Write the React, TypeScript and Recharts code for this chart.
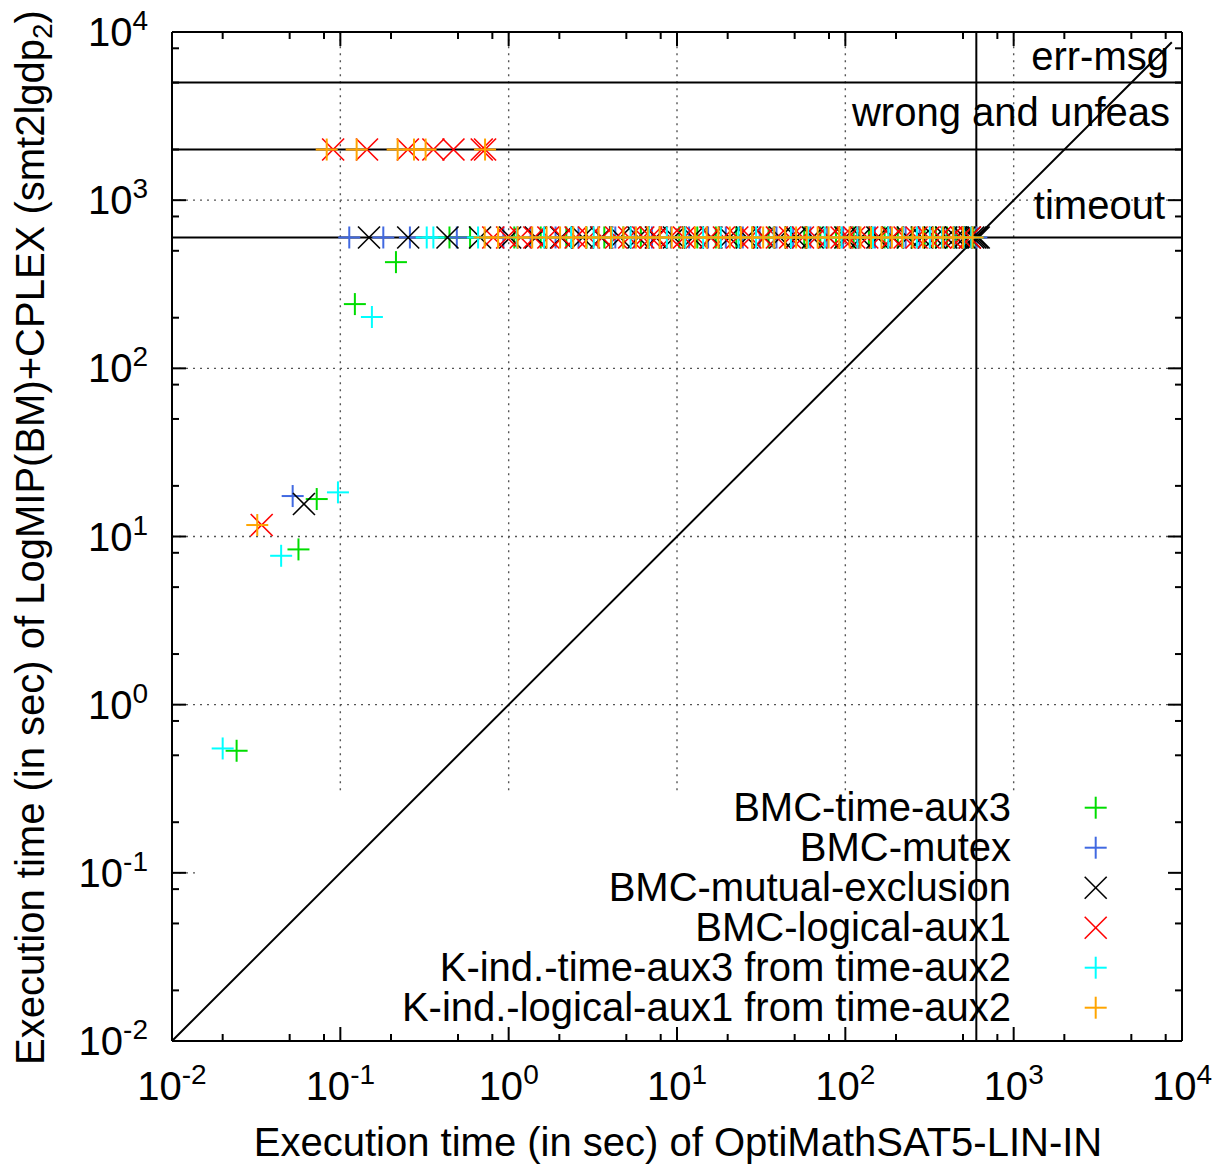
import React from 'react';
import { ScatterChart, Scatter, XAxis, YAxis, ReferenceLine, Legend } from 'recharts';

// ---------------- data ----------------
const seriesNames = [
  'BMC-time-aux3',
  'BMC-mutex',
  'BMC-mutual-exclusion',
  'BMC-logical-aux1',
  'K-ind.-time-aux3 from time-aux2',
  'K-ind.-logical-aux1 from time-aux2',
];
const seriesColors = ['#00dd00', '#4169e1', '#000000', '#ff0000', '#00ffff', '#ffa500'];
const seriesMarkers = ['plus', 'plus', 'cross', 'cross', 'plus', 'plus'];

// solved instances: [OptiMathSAT time, LogMIP time]
const timeAux3Solved = [[0.214, 428], [0.122, 241], [0.0724, 16.7], [0.0564, 8.38], [0.0242, 0.532]];
const mutexSolved = [[0.0521, 17.4]];
const mutualExclusionSolved = [[0.0608, 15.6]];
const logicalAux1Solved = [[0.0341, 11.7]];
const kindTimeAux3Solved = [[0.154, 202], [0.0968, 18.3], [0.0445, 7.68], [0.02, 0.549]];
const kindLogicalAux1Solved = [[0.0321, 11.7]];

// LogMIP timeouts (y = TIMEOUT): OptiMathSAT time
const timeAux3Timeout = [0.445, 0.59, 1.08, 1.55, 2.2, 2.9, 3.7, 4.8, 6.1, 7.9, 10.3, 13.2, 17, 22.5, 28, 35, 44, 57, 71, 88, 112, 138, 171, 205, 248, 296, 345, 402, 455, 520, 578];
const mutexTimeout = [0.113, 0.18, 0.259, 0.492, 0.93, 1.35, 1.9, 2.6, 3.4, 4.3, 5.6, 7.1, 9.2, 11.8, 15.3, 19.5, 24.6, 31, 39, 49, 62, 78, 97, 121, 150, 186, 228, 276, 330, 388, 447, 505, 565, 600];
const mutualExclusionTimeout = [0.148, 0.253, 0.433, 0.676, 1.02, 1.45, 2.05, 2.75, 3.55, 4.6, 5.9, 7.5, 9.6, 12.4, 16, 20.5, 26, 33, 41, 51, 64, 80, 100, 124, 155, 192, 235, 285, 340, 398, 455, 510, 548, 575, 592, 608, 620];
const logicalAux1Timeout = [0.81, 0.98, 1.18, 1.42, 1.72, 2.08, 2.5, 3.0, 3.6, 4.35, 5.2, 6.3, 7.0, 7.6, 9.1, 11, 13.1, 15.8, 19, 22.8, 27.3, 32.7, 39.2, 47, 56, 67, 80, 95, 104, 113, 135, 160, 190, 225, 265, 312, 365, 425, 488, 550];
const kindTimeAux3Timeout = [0.326, 0.357, 0.658, 1.12, 1.62, 2.35, 3.2, 4.1, 5.3, 6.8, 8.7, 11.2, 14.3, 18.2, 23.2, 29.5, 37.5, 47.5, 60, 75.5, 95, 118, 146, 180, 220, 266, 318, 376, 440, 505, 560];
const kindLogicalAux1Timeout = [0.72, 0.865, 1.13, 1.38, 1.68, 2.02, 2.42, 2.88, 3.42, 4.05, 4.8, 5.7, 6.7, 7.9, 9.3, 10.9, 12.8, 15, 17.6, 20.6, 24, 28, 32.5, 37.8, 43.9, 51, 59, 68.5, 79.5, 92, 106, 123, 142, 164, 189, 218, 251, 289, 332, 381, 437, 500, 570];

// wrong-and-unfeasible results (y = WRONG)
const timeAux3Wrong: number[] = [];
const mutexWrong: number[] = [];
const mutualExclusionWrong: number[] = [];
const logicalAux1Wrong = [0.0906, 0.144, 0.252, 0.357, 0.47, 0.692, 0.724];
const kindTimeAux3Wrong: number[] = [];
const kindLogicalAux1Wrong = [0.083, 0.125, 0.219, 0.274, 0.321, 0.724];

const TIMEOUT = 600;
const WRONG = 2000;
const ERRMSG = 5000;
const DIAG_END = 8700;
const LEGEND_BOX_BOTTOM_Y = 0.31;
const LEGEND_BOX_LEFT_X = 0.0139;

const axisDomain: [number, number] = [0.01, 10000];
const axisTicks = [0.01, 0.02, 0.05, 0.08, 0.1, 0.2, 0.5, 0.8, 1, 2, 5, 8, 10, 20, 50, 80, 100, 200, 500, 800, 1000, 2000, 5000, 8000, 10000];
const majorTicks = [0.01, 0.1, 1, 10, 100, 1000, 10000];
const majorTickExponents = ['-2', '-1', '0', '1', '2', '3', '4'];
const gridX = [0.1, 1, 10, 100, 1000];
const gridYFull = [1, 10, 100, 1000];
const gridYShort = [0.1];

const xTitle = 'Execution time (in sec) of OptiMathSAT5-LIN-IN';
const yTitleMain = 'Execution time (in sec) of LogMIP(BM)+CPLEX (smt2lgdp';
const yTitleSub = '2';
const yTitleEnd = ')';

const solvedList = [timeAux3Solved, mutexSolved, mutualExclusionSolved, logicalAux1Solved, kindTimeAux3Solved, kindLogicalAux1Solved];
const timeoutList = [timeAux3Timeout, mutexTimeout, mutualExclusionTimeout, logicalAux1Timeout, kindTimeAux3Timeout, kindLogicalAux1Timeout];
const wrongList = [timeAux3Wrong, mutexWrong, mutualExclusionWrong, logicalAux1Wrong, kindTimeAux3Wrong, kindLogicalAux1Wrong];

const SERIES = seriesNames.map((name, i) => ({
  name,
  color: seriesColors[i],
  marker: seriesMarkers[i],
  data: [
    ...solvedList[i].map(([x, y]) => ({ x, y })),
    ...timeoutList[i].map((x) => ({ x, y: TIMEOUT })),
    ...wrongList[i].map((x) => ({ x, y: WRONG })),
  ],
}));

// ---------------- layout ----------------
const FONT = '"Liberation Sans", Arial, Helvetica, sans-serif';
const W = 1229;
const H = 1167;
const MARGIN = { top: 32, right: 47, left: 0, bottom: 0 };
const Y_AXIS_W = 172;
const X_AXIS_H = 126;
const PLOT_TOP = MARGIN.top;
const PLOT_BOTTOM = H - X_AXIS_H;
const PLOT_LEFT = Y_AXIS_W;
const PLOT_RIGHT = W - MARGIN.right;
const FS = 40;
const SUP_FS = 28;
const MARK = 11;

const majorIndex = (v: number) => majorTicks.findIndex((m) => Math.abs(m - v) / m < 1e-9);

const PlusMark = ({ cx, cy, color }: any) => (
  <g>
    <line x1={cx - MARK} x2={cx + MARK} y1={cy} y2={cy} stroke={color} strokeWidth={2} />
    <line x1={cx} x2={cx} y1={cy - MARK} y2={cy + MARK} stroke={color} strokeWidth={2} />
  </g>
);
const CrossMark = ({ cx, cy, color }: any) => (
  <g>
    <line x1={cx - MARK} x2={cx + MARK} y1={cy - MARK} y2={cy + MARK} stroke={color} strokeWidth={1.6} />
    <line x1={cx - MARK} x2={cx + MARK} y1={cy + MARK} y2={cy - MARK} stroke={color} strokeWidth={1.6} />
  </g>
);
const Marker = ({ kind, cx, cy, color }: any) =>
  kind === 'plus' ? <PlusMark cx={cx} cy={cy} color={color} /> : <CrossMark cx={cx} cy={cy} color={color} />;

const XTick = (props: any) => {
  const { payload } = props;
  const x = payload.coordinate ?? props.x;
  const idx = majorIndex(payload.value);
  const len = idx >= 0 ? 14 : 7;
  return (
    <g>
      <line x1={x} x2={x} y1={PLOT_BOTTOM} y2={PLOT_BOTTOM - len} stroke="#000" strokeWidth={2} />
      <line x1={x} x2={x} y1={PLOT_TOP} y2={PLOT_TOP + len} stroke="#000" strokeWidth={2} />
      {idx >= 0 && (
        <text x={x} y={PLOT_BOTTOM + 59} textAnchor="middle" fontFamily={FONT} fontSize={FS} fill="#000">
          10
          <tspan dy={-16} fontSize={SUP_FS}>{majorTickExponents[idx]}</tspan>
        </text>
      )}
    </g>
  );
};

const YTick = (props: any) => {
  const { payload } = props;
  const y = payload.coordinate ?? props.y;
  const idx = majorIndex(payload.value);
  const len = idx >= 0 ? 14 : 7;
  return (
    <g>
      <line x1={PLOT_LEFT} x2={PLOT_LEFT + len} y1={y} y2={y} stroke="#000" strokeWidth={2} />
      <line x1={PLOT_RIGHT} x2={PLOT_RIGHT - len} y1={y} y2={y} stroke="#000" strokeWidth={2} />
      {idx >= 0 && (
        <text x={PLOT_LEFT - 24} y={y + 14} textAnchor="end" fontFamily={FONT} fontSize={FS} fill="#000">
          10
          <tspan dy={-16} fontSize={SUP_FS}>{majorTickExponents[idx]}</tspan>
        </text>
      )}
    </g>
  );
};

const XTitle = (props: any) => {
  const vb = props.viewBox || { x: PLOT_LEFT, y: PLOT_BOTTOM, width: PLOT_RIGHT - PLOT_LEFT, height: X_AXIS_H };
  return (
    <text x={vb.x + vb.width / 2 + 1} y={vb.y + 115} textAnchor="middle" fontFamily={FONT} fontSize={FS} fill="#000">
      {xTitle}
    </text>
  );
};

const YTitle = (props: any) => {
  const vb = props.viewBox || { x: 0, y: PLOT_TOP, width: Y_AXIS_W, height: PLOT_BOTTOM - PLOT_TOP };
  const cx = vb.x + 43.5;
  const cy = vb.y + vb.height / 2 + 1;
  return (
    <text transform={`translate(${cx},${cy}) rotate(-90)`} x={0} y={0} textAnchor="middle" fontFamily={FONT} fontSize={FS} fill="#000">
      {yTitleMain}
      <tspan dy={8} fontSize={SUP_FS}>{yTitleSub}</tspan>
      <tspan dy={-8}>{yTitleEnd}</tspan>
    </text>
  );
};

const lineLabel = (text: string, dx: number, dy: number) => (props: any) => {
  const vb = props.viewBox;
  if (!vb) return null;
  return (
    <text x={vb.x + vb.width + dx} y={vb.y + dy} textAnchor="end" fontFamily={FONT} fontSize={FS} fill="#000">
      {text}
    </text>
  );
};

const LEG_LEFT = 380;
const LEG_TOP = 785;
const LegendContent = () => (
  <svg width={800} height={250} style={{ display: 'block', overflow: 'visible' }}>
    {SERIES.map((s, i) => {
      const cy = 22.7 + 40 * i;
      return (
        <g key={s.name}>
          <text x={1011 - LEG_LEFT} y={cy + 13.5} textAnchor="end" fontFamily={FONT} fontSize={FS} fill="#000">
            {s.name}
          </text>
          <Marker kind={s.marker} cx={1095.7 - LEG_LEFT} cy={cy} color={s.color} />
        </g>
      );
    })}
  </svg>
);

const dotted = { stroke: '#555', strokeWidth: 1.4, strokeDasharray: '2 5' };
const solid = { stroke: '#000', strokeWidth: 2 };

export default function App() {
  return (
    <div style={{ position: 'absolute', left: 0, top: 0, width: W, height: H, background: '#fff' }}>
      <ScatterChart width={W} height={H} margin={MARGIN}>
        <XAxis
          type="number"
          dataKey="x"
          scale="log"
          domain={axisDomain}
          allowDataOverflow
          ticks={axisTicks}
          interval={0}
          tick={(p: any) => <XTick {...p} />}
          tickLine={false}
          axisLine={false}
          tickSize={0}
          height={X_AXIS_H}
          label={(p: any) => <XTitle {...p} />}
        />
        <YAxis
          type="number"
          dataKey="y"
          scale="log"
          domain={axisDomain}
          allowDataOverflow
          ticks={axisTicks}
          interval={0}
          tick={(p: any) => <YTick {...p} />}
          tickLine={false}
          axisLine={false}
          tickSize={0}
          width={Y_AXIS_W}
          label={(p: any) => <YTitle {...p} />}
        />
        {gridX.map((v) => (
          <ReferenceLine key={`gx${v}`} segment={[{ x: v, y: LEGEND_BOX_BOTTOM_Y }, { x: v, y: axisDomain[1] }]} {...dotted} />
        ))}
        {gridYFull.map((v) => (
          <ReferenceLine key={`gy${v}`} y={v} {...dotted} />
        ))}
        {gridYShort.map((v) => (
          <ReferenceLine key={`gys${v}`} segment={[{ x: axisDomain[0], y: v }, { x: LEGEND_BOX_LEFT_X, y: v }]} {...dotted} />
        ))}
        <ReferenceLine x={axisDomain[0]} {...solid} />
        <ReferenceLine x={axisDomain[1]} {...solid} />
        <ReferenceLine y={axisDomain[0]} {...solid} />
        <ReferenceLine y={axisDomain[1]} {...solid} />
        <ReferenceLine y={ERRMSG} {...solid} label={lineLabel('err-msg', -13, -13)} />
        <ReferenceLine y={WRONG} {...solid} label={lineLabel('wrong and unfeas', -12, -24)} />
        <ReferenceLine y={TIMEOUT} {...solid} label={lineLabel('timeout', -17, -18)} />
        <ReferenceLine x={TIMEOUT} {...solid} />
        <ReferenceLine segment={[{ x: axisDomain[0], y: axisDomain[0] }, { x: DIAG_END, y: DIAG_END }]} {...solid} />
        {SERIES.map((s) => (
          <Scatter
            key={s.name}
            name={s.name}
            data={s.data}
            fill={s.color}
            isAnimationActive={false}
            shape={(p: any) => <Marker kind={s.marker} cx={p.cx} cy={p.cy} color={s.color} />}
          />
        ))}
        <Legend
          layout="vertical"
          align="center"
          verticalAlign="middle"
          wrapperStyle={{ left: LEG_LEFT, top: LEG_TOP, width: 800, height: 250 }}
          content={() => <LegendContent />}
        />
      </ScatterChart>
    </div>
  );
}
